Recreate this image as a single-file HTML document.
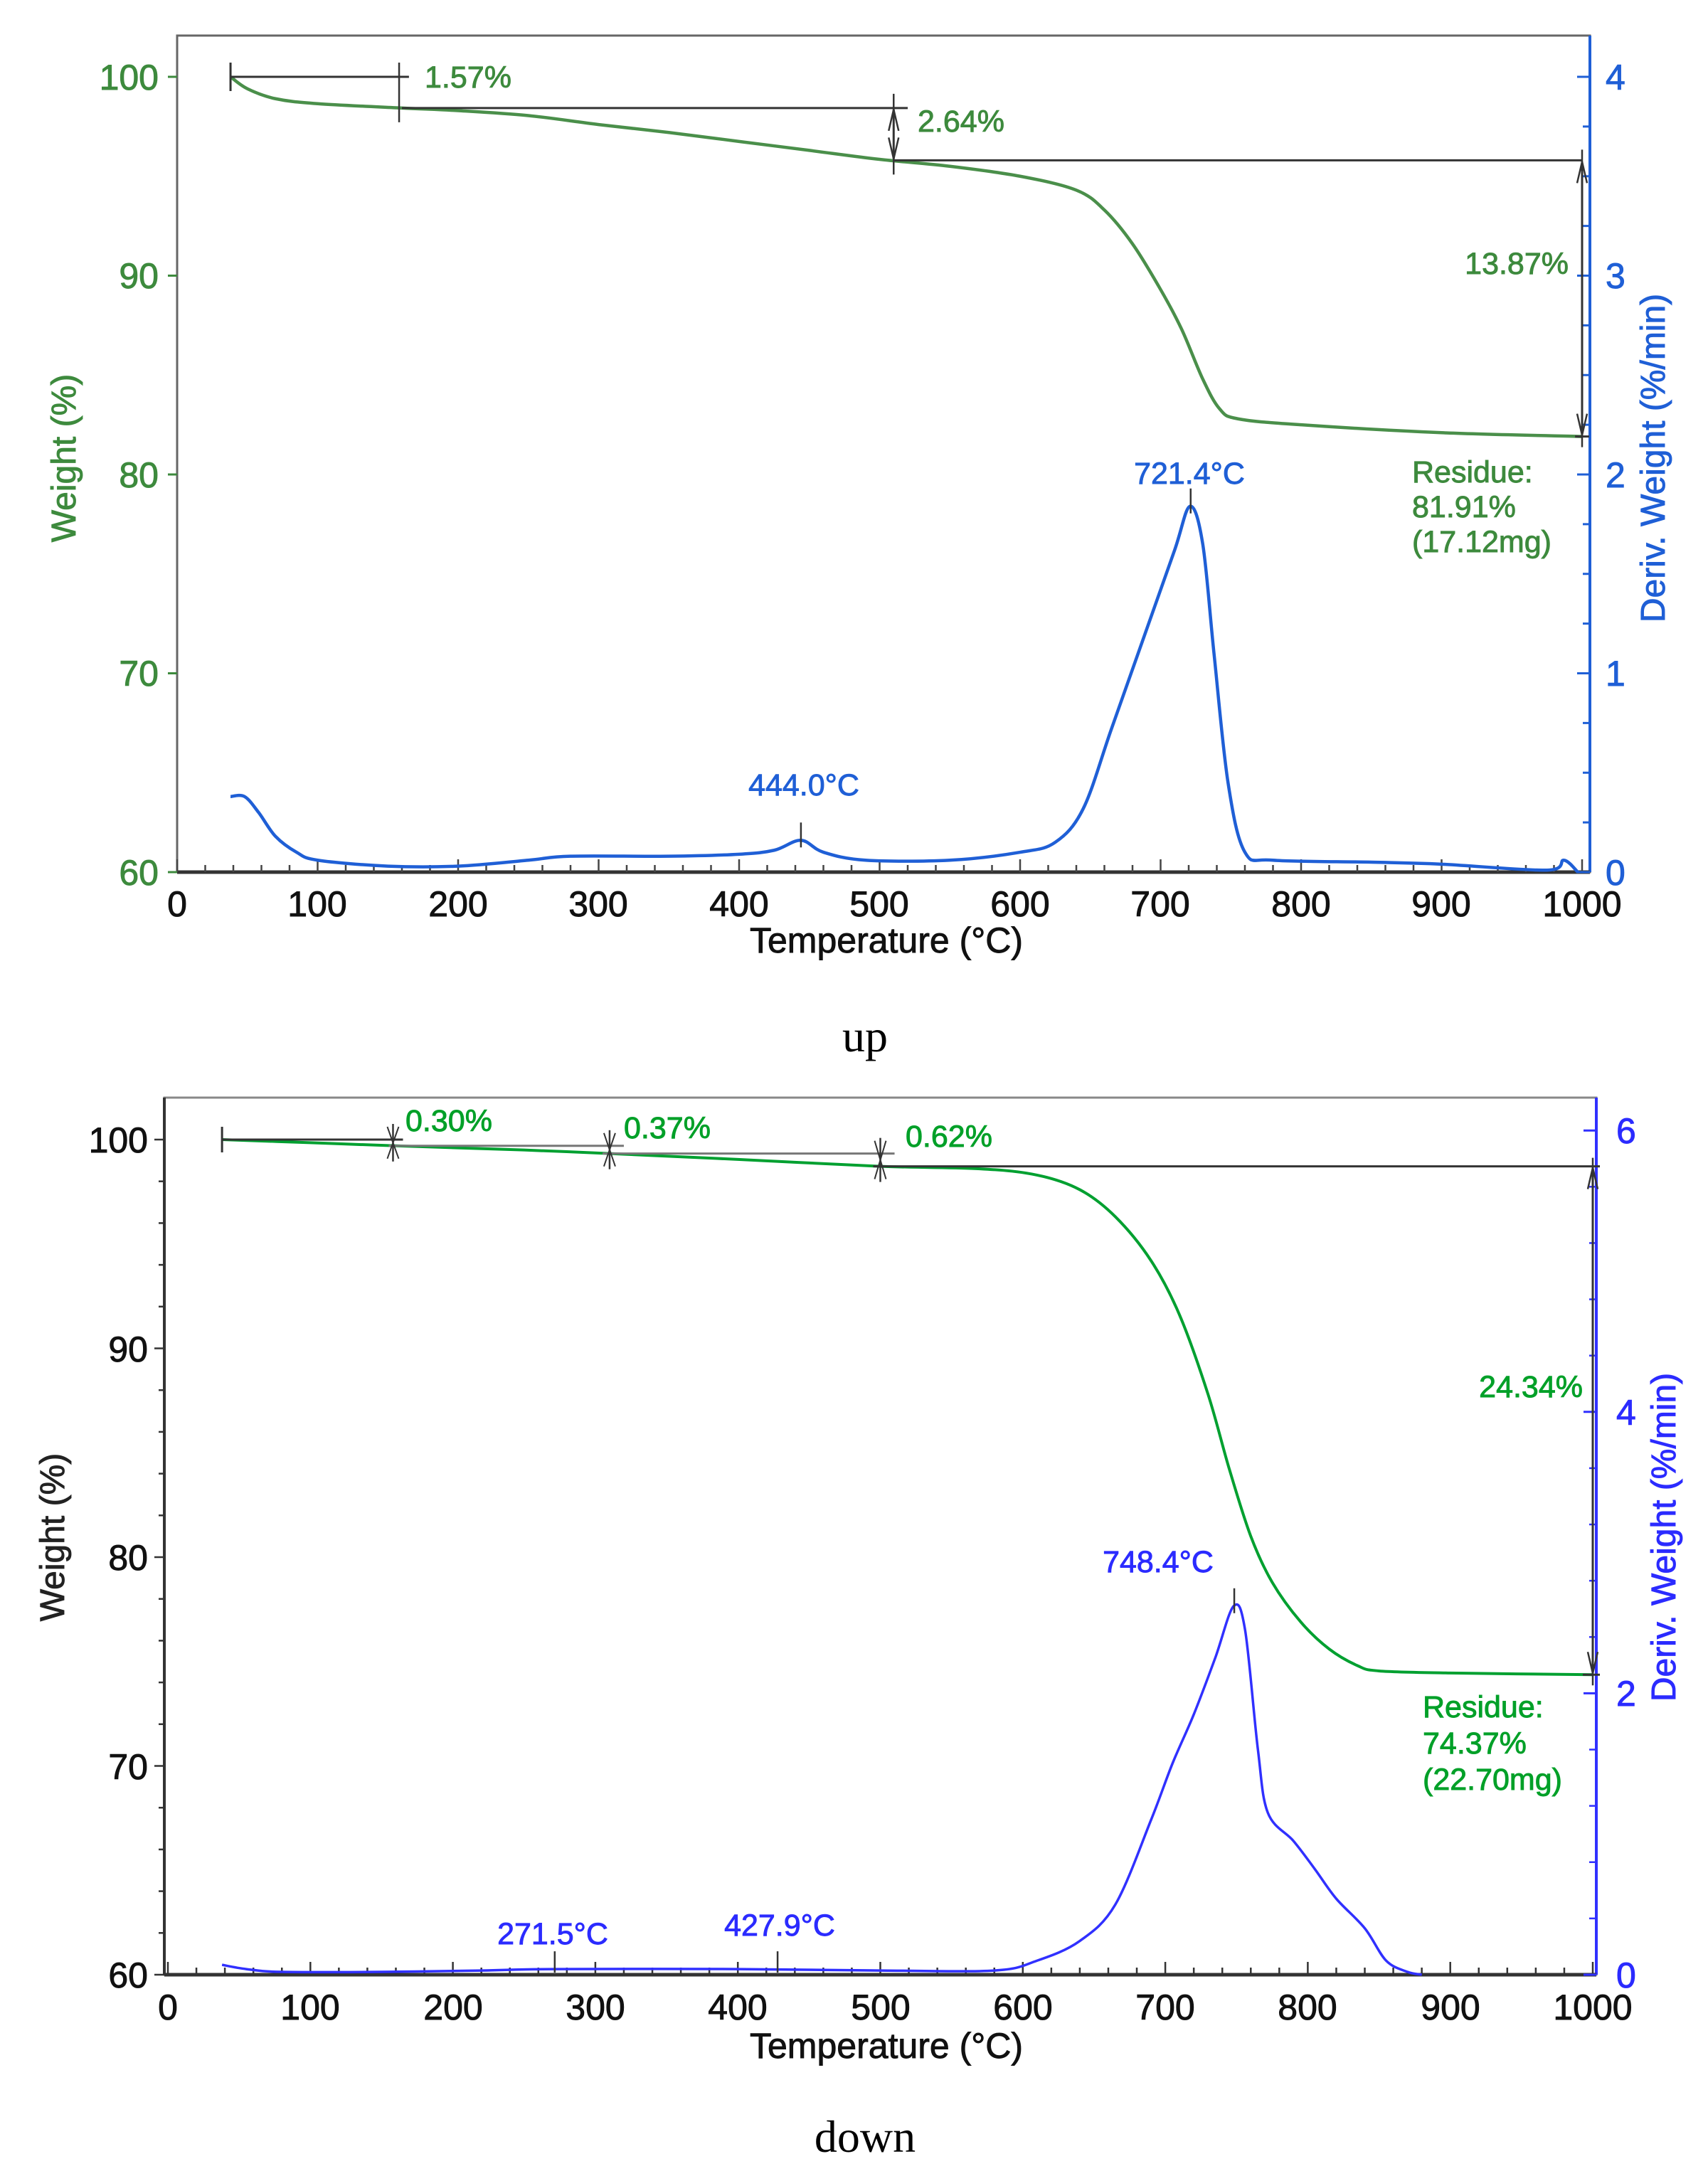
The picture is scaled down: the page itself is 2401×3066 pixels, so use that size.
<!DOCTYPE html>
<html><head><meta charset="utf-8"><style>
html,body{margin:0;padding:0;background:#fff}
svg{display:block}
text{font-family:"Liberation Sans",Arial,sans-serif;stroke-width:0.9px}
</style></head><body>
<svg id="s" width="2401" height="3066" viewBox="0 0 2401 3066" xmlns="http://www.w3.org/2000/svg">
<rect width="2401" height="3066" fill="#fff"/>
<g id="g"></g>
<!-- TOP CHART TEXT -->
<g font-size="50" fill="#3d8a3d" stroke="#3d8a3d" text-anchor="end">
<text x="223" y="126">100</text><text x="223" y="405">90</text><text x="223" y="685">80</text><text x="223" y="964">70</text><text x="223" y="1244">60</text>
</g>
<g font-size="50" fill="#1f5fd6" stroke="#1f5fd6">
<text x="2257" y="126">4</text><text x="2257" y="405">3</text><text x="2257" y="685">2</text><text x="2257" y="964">1</text><text x="2257" y="1244">0</text>
</g>
<g font-size="50" fill="#111" stroke="#111" text-anchor="middle">
<text x="249" y="1288">0</text><text x="446" y="1288">100</text><text x="644" y="1288">200</text><text x="841" y="1288">300</text><text x="1039" y="1288">400</text><text x="1236" y="1288">500</text><text x="1434" y="1288">600</text><text x="1631" y="1288">700</text><text x="1829" y="1288">800</text><text x="2026" y="1288">900</text><text x="2224" y="1288">1000</text>
<text x="1246" y="1339">Temperature (°C)</text>
</g>
<text transform="translate(106,644) rotate(-90)" font-size="48" fill="#3d8a3d" stroke="#3d8a3d" text-anchor="middle">Weight (%)</text>
<text transform="translate(2340,644) rotate(-90)" font-size="48" fill="#1f5fd6" stroke="#1f5fd6" text-anchor="middle">Deriv. Weight (%/min)</text>
<g font-size="43" fill="#3d8a3d" stroke="#3d8a3d">
<text x="597" y="123">1.57%</text>
<text x="1290" y="185">2.64%</text>
<text x="2205" y="385" text-anchor="end">13.87%</text>
<text x="1985" y="678">Residue:</text>
<text x="1985" y="727">81.91%</text>
<text x="1985" y="776">(17.12mg)</text>
</g>
<g font-size="43" fill="#1f5fd6" stroke="#1f5fd6" text-anchor="middle">
<text x="1672" y="680">721.4°C</text>
<text x="1130" y="1118">444.0°C</text>
</g>
<text x="1216" y="1478" font-size="64" text-anchor="middle" style="font-family:'Liberation Serif',serif;stroke-width:0">up</text>

<!-- BOTTOM CHART TEXT -->
<g font-size="50" fill="#111" stroke="#111" text-anchor="end">
<text x="208" y="1620">100</text><text x="208" y="1914">90</text><text x="208" y="2207">80</text><text x="208" y="2501">70</text><text x="208" y="2794">60</text>
</g>
<g font-size="50" fill="#2b2bff" stroke="#2b2bff">
<text x="2272" y="1607">6</text><text x="2272" y="2003">4</text><text x="2272" y="2398">2</text><text x="2272" y="2794">0</text>
</g>
<g font-size="50" fill="#111" stroke="#111" text-anchor="middle">
<text x="236" y="2839">0</text><text x="436" y="2839">100</text><text x="637" y="2839">200</text><text x="837" y="2839">300</text><text x="1037" y="2839">400</text><text x="1238" y="2839">500</text><text x="1438" y="2839">600</text><text x="1638" y="2839">700</text><text x="1838" y="2839">800</text><text x="2039" y="2839">900</text><text x="2239" y="2839">1000</text>
<text x="1246" y="2893">Temperature (°C)</text>
</g>
<text transform="translate(90,2161) rotate(-90)" font-size="48" fill="#222" stroke="#222" text-anchor="middle">Weight (%)</text>
<text transform="translate(2355,2161) rotate(-90)" font-size="48" fill="#2b2bff" stroke="#2b2bff" text-anchor="middle">Deriv. Weight (%/min)</text>
<g font-size="43" fill="#00a028" stroke="#00a028">
<text x="570" y="1590">0.30%</text>
<text x="877" y="1600">0.37%</text>
<text x="1273" y="1612">0.62%</text>
<text x="2225" y="1964" text-anchor="end">24.34%</text>
<text x="2000" y="2414">Residue:</text>
<text x="2000" y="2465">74.37%</text>
<text x="2000" y="2516">(22.70mg)</text>
</g>
<g font-size="43" fill="#2b2bff" stroke="#2b2bff" text-anchor="middle">
<text x="1628" y="2210">748.4°C</text>
<text x="777" y="2733">271.5°C</text>
<text x="1096" y="2721">427.9°C</text>
</g>
<text x="1216" y="3025" font-size="64" text-anchor="middle" style="font-family:'Liberation Serif',serif;stroke-width:0">down</text>
</svg>
<script>
var g=document.getElementById('g'),NS='http://www.w3.org/2000/svg';
function el(t,a){var e=document.createElementNS(NS,t);for(var k in a)e.setAttribute(k,a[k]);g.appendChild(e);return e;}
function line(x1,y1,x2,y2,c,w){el('line',{x1:x1,y1:y1,x2:x2,y2:y2,stroke:c,'stroke-width':w||3});}
function smooth(pts){var d='M'+pts[0][0]+','+pts[0][1];for(var i=0;i<pts.length-1;i++){var p0=pts[i-1]||pts[i],p1=pts[i],p2=pts[i+1],p3=pts[i+2]||p2;
d+=' C'+(p1[0]+(p2[0]-p0[0])/6)+','+(p1[1]+(p2[1]-p0[1])/6)+' '+(p2[0]-(p3[0]-p1[0])/6)+','+(p2[1]-(p3[1]-p1[1])/6)+' '+p2[0]+','+p2[1];}return d;}
function arrowV(x,y1,y2,c){line(x,y1,x,y2,c,3);var s=y2>y1?1:-1;
line(x,y2,x-7,y2-s*30,c,2.5);line(x,y2,x+7,y2-s*30,c,2.5);line(x,y1,x-7,y1+s*30,c,2.5);line(x,y1,x+7,y1+s*30,c,2.5);}
// TOP
(function(){var X=function(t){return 249+1.975*t},Y=function(w){return 108+(100-w)*27.95},D=function(d){return 1226-279.5*d};
var bl='#1f5fd6';
el('rect',{x:249,y:50,width:1986,height:1176,fill:'none',stroke:'#666','stroke-width':3});
line(2235,50,2235,1226,bl,4);line(249,1226,2235,1226,'#333',5);
for(var t=0;t<=1000;t+=20){line(X(t),1226,X(t),1226-(t%100?10:18),'#444',2.5);}
for(var v=60;v<=100;v+=10)line(236,Y(v),249,Y(v),'#3d8a3d',3);
for(var d=0;d<=4;d+=0.25)line(2235,D(d),2235-(d%1?10:18),D(d),bl,3);
var w=[[38,100],[50,99.4],[70,98.9],[100,98.65],[160,98.43],[200,98.3],[250,98.05],[300,97.6],[350,97.2],[400,96.75],[450,96.3],[500,95.85],[550,95.5],[600,95.0],[640,94.3],[660,93.3],[680,91.6],[700,89.3],[715,87.3],[730,84.8],[742,83.3],[755,82.8],[800,82.5],[900,82.1],[1000,81.91]];
el('path',{d:smooth(w.map(function(p){return [X(p[0]),Y(p[1])]})),fill:'none',stroke:'#4a8f4a','stroke-width':4.5});
var dv=[[38,0.38],[48,0.38],[58,0.3],[70,0.18],[85,0.1],[100,0.06],[150,0.03],[200,0.03],[250,0.06],[280,0.08],[350,0.08],[400,0.09],[425,0.11],[444,0.16],[460,0.1],[490,0.06],[550,0.06],[600,0.1],[625,0.15],[645,0.32],[665,0.72],[690,1.22],[710,1.62],[721,1.84],[730,1.65],[738,1.1],[748,0.45],[760,0.1],[780,0.06],[850,0.05],[900,0.04],[975,0.01],[987,0.06],[997,0.0]];
el('path',{d:smooth(dv.map(function(p){return [X(p[0]),D(p[1])]})),fill:'none',stroke:bl,'stroke-width':4.5});
line(X(721.4),D(1.84)-25,X(721.4),D(1.84)+10,'#333',2.5);line(X(444),D(0.16)-25,X(444),D(0.16)+10,'#333',2.5);
var k='#333';
line(X(38),Y(100),X(165),Y(100),k);line(X(38),Y(100)-20,X(38),Y(100)+20,k);
line(X(160),Y(98.43),X(520),Y(98.43),k);
line(X(510),Y(95.8),X(1000),Y(95.8),k);line(X(995),Y(81.91),X(1005),Y(81.91),k);
line(X(158),Y(100)-20,X(158),Y(98.43)+20,k,2.5);
arrowV(X(510),Y(98.43)+2,Y(95.8)-2,k);line(X(510),Y(98.43)-20,X(510),Y(95.8)+20,k,2.5);
arrowV(X(1000),Y(95.8)+2,Y(81.91)-2,k);line(X(1000),Y(95.8)-15,X(1000),Y(81.91)+15,k,2.5);
})();
// BOTTOM
(function(){var X=function(t){return 236+2.003*t},Y=function(w){return 1602+(100-w)*29.35},D=function(d){return 2776-197.8*d};
var bl='#3030ff';
el('rect',{x:231,y:1543,width:2013,height:1233,fill:'none',stroke:'#888','stroke-width':3});
line(2244,1543,2244,2776,bl,4);line(231,2776,2244,2776,'#333',5);line(231,1543,231,2776,'#333',4);
for(var t=0;t<=1000;t+=20){line(X(t),2776,X(t),2776-(t%100?10:18),'#333',2.5);}
for(var v=60;v<=100;v+=2)line(231-(v%10?8:14),Y(v),231,Y(v),'#333',2.5);
for(var d=0;d<=6;d+=0.4)line(2244,D(d),2244-10,D(d),bl,2.5);
for(var d=0;d<=6;d+=2)line(2244,D(d),2244-18,D(d),bl,3);
var w=[[38,100],[100,99.85],[160,99.7],[250,99.5],[310,99.33],[400,99.05],[500,98.72],[570,98.6],[610,98.3],[640,97.6],[665,96.3],[690,94.2],[710,91.6],[730,87.8],[745,84.2],[760,81],[775,78.8],[795,76.9],[815,75.6],[835,74.8],[850,74.55],[900,74.45],[1000,74.37]];
el('path',{d:smooth(w.map(function(p){return [X(p[0]),Y(p[1])]})),fill:'none',stroke:'#00a030','stroke-width':4});
var dv=[[38,0.07],[55,0.04],[80,0.02],[150,0.02],[220,0.03],[271,0.04],[400,0.04],[500,0.03],[580,0.03],[610,0.1],[640,0.24],[665,0.5],[690,1.1],[705,1.5],[720,1.85],[735,2.25],[748,2.62],[756,2.45],[765,1.6],[772,1.15],[790,0.95],[805,0.75],[820,0.54],[840,0.33],[855,0.1],[870,0.02],[880,0]];
el('path',{d:smooth(dv.map(function(p){return [X(p[0]),D(p[1])]})),fill:'none',stroke:bl,'stroke-width':3.5});
line(X(748.4),D(2.62)-25,X(748.4),D(2.62)+10,'#333',2.5);
line(X(271.5),D(0.04)-25,X(271.5),D(0.04)+5,'#333',2.5);line(X(427.9),D(0.04)-25,X(427.9),D(0.04)+5,'#333',2.5);
var k='#333';
line(X(38),Y(100),X(165),Y(100),k);line(X(38),Y(100)-18,X(38),Y(100)+18,k);
line(X(155),Y(99.7),X(320),Y(99.7),'#777');
line(X(305),Y(99.33),X(510),Y(99.33),'#777');
line(X(495),Y(98.72),X(1005),Y(98.72),k);line(X(993),Y(74.37),X(1005),Y(74.37),k);
[[158,100,99.7],[310,99.7,99.33],[500,99.33,98.72]].forEach(function(a){var x=X(a[0]);line(x,Y(a[1])-22,x,Y(a[2])+22,k,2.5);line(x-8,Y(a[1])-18,x+8,Y(a[2])+18,k,2);line(x+8,Y(a[1])-18,x-8,Y(a[2])+18,k,2);});
arrowV(X(1000),Y(98.72)+2,Y(74.37)-2,k);line(X(1000),Y(98.72)-12,X(1000),Y(74.37)+15,k,2.5);
})();
</script>
</body></html>
